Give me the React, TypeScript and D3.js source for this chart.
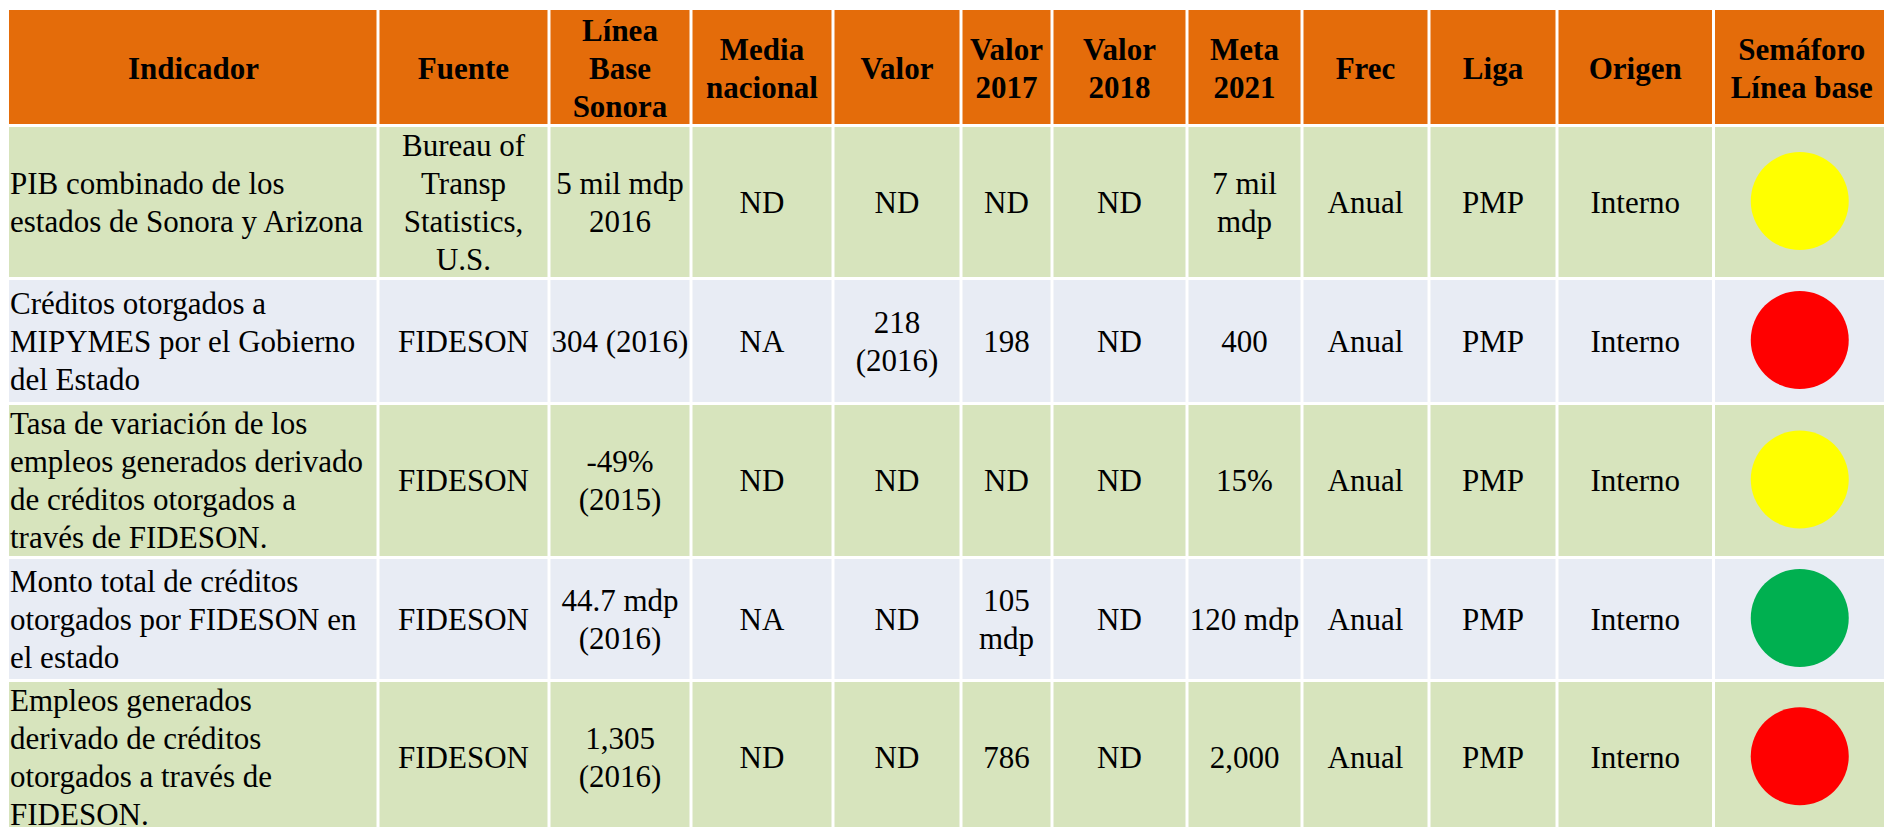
import React from "react";
import * as d3 from "d3";

// table content, lines split with "\n"
const headers = [
  "Indicador",
  "Fuente",
  "Línea\nBase\nSonora",
  "Media\nnacional",
  "Valor",
  "Valor\n2017",
  "Valor\n2018",
  "Meta\n2021",
  "Frec",
  "Liga",
  "Origen",
  "Semáforo\nLínea base",
];

const indicadores = [
  "PIB combinado de los\nestados de Sonora y Arizona",
  "Créditos otorgados a\nMIPYMES por el Gobierno\ndel Estado",
  "Tasa de variación de los\nempleos generados derivado\nde créditos otorgados a\ntravés de FIDESON.",
  "Monto total de créditos\notorgados por FIDESON en\nel estado",
  "Empleos generados\nderivado de créditos\notorgados a través de\nFIDESON.",
];
const fuentes = ["Bureau of\nTransp\nStatistics,\nU.S.", "FIDESON", "FIDESON", "FIDESON", "FIDESON"];
const lineaBase = ["5 mil mdp\n2016", "304 (2016)", "-49%\n(2015)", "44.7 mdp\n(2016)", "1,305\n(2016)"];
const mediaNacional = ["ND", "NA", "ND", "NA", "ND"];
const valor = ["ND", "218\n(2016)", "ND", "ND", "ND"];
const valor2017 = ["ND", "198", "ND", "105\nmdp", "786"];
const valor2018 = ["ND", "ND", "ND", "ND", "ND"];
const meta2021 = ["7 mil\nmdp", "400", "15%", "120 mdp", "2,000"];
const frec = ["Anual", "Anual", "Anual", "Anual", "Anual"];
const liga = ["PMP", "PMP", "PMP", "PMP", "PMP"];
const origen = ["Interno", "Interno", "Interno", "Interno", "Interno"];
const semaforo = ["amarillo", "rojo", "amarillo", "verde", "rojo"];

const columns = [indicadores, fuentes, lineaBase, mediaNacional, valor, valor2017, valor2018, meta2021, frec, liga, origen];

// layout
const W = 1884;
const H = 827;
const colWidths = [369, 171, 142, 142, 128, 91, 135, 115, 127, 128, 156.5, 176.5];
const rowHeights = [115.5, 153, 125, 154, 123, 153.5];
const x0 = 9;
const y0 = 10;
const gap = 3;
const fontSize = 31;
const lineH = 38;
const fontFamily =
  "'Liberation Serif', 'Times New Roman', Times, 'Nimbus Roman', 'Nimbus Roman No9 L', FreeSerif, 'Noto Serif', 'DejaVu Serif', Georgia, serif";

const headerFill = "#E46C0A";
const rowFills = ["#D7E4BD", "#E8ECF4"];
const lightColor = d3.scaleOrdinal<string, string>()
  .domain(["amarillo", "rojo", "verde"])
  .range(["#FFFF00", "#FF0000", "#00B050"]);

export default function App() {
  const xEdges = [x0, ...d3.cumsum(colWidths).map((d) => x0 + d)];
  const yEdges = [y0, ...d3.cumsum(rowHeights).map((d) => y0 + d)];

  const cellText = (txt: string, cx: number, cy: number, anchor: string, bold: boolean, key: string) => {
    const lines = txt.split("\n");
    return (
      <text
        key={key}
        x={cx}
        textAnchor={anchor}
        style={{ fontFamily, fontSize, fontWeight: bold ? "bold" : "normal" }}
        fill="#000"
      >
        {lines.map((l, i) => (
          <tspan key={i} x={cx} y={cy + (i - (lines.length - 1) / 2) * lineH} dy="0.35em">
            {l}
          </tspan>
        ))}
      </text>
    );
  };

  const cells: React.ReactNode[] = [];

  // header
  headers.forEach((h, c) => {
    const x1 = xEdges[c], x2 = xEdges[c + 1];
    const y1 = yEdges[0], y2 = yEdges[1];
    cells.push(
      <rect key={"hr" + c} x={x1 + (c ? gap / 2 : 0)} y={y1} width={x2 - x1 - (c ? gap : gap / 2)} height={y2 - y1 - gap / 2} fill={headerFill} />
    );
    cells.push(cellText(h, (x1 + x2) / 2, (y1 + y2) / 2, "middle", true, "ht" + c));
  });

  // body rows
  indicadores.forEach((_, r) => {
    const y1 = yEdges[r + 1], y2 = yEdges[r + 2];
    const cy = (y1 + y2) / 2;
    const fill = rowFills[r % 2];
    colWidths.forEach((_, c) => {
      const x1 = xEdges[c], x2 = xEdges[c + 1];
      cells.push(
        <rect key={`r${r}c${c}`} x={x1 + (c ? gap / 2 : 0)} y={y1 + gap / 2} width={x2 - x1 - (c ? gap : gap / 2)} height={y2 - y1 - gap} fill={fill} />
      );
      if (c < columns.length) {
        const left = c === 0;
        cells.push(cellText(columns[c][r], left ? x1 + 1 : (x1 + x2) / 2, cy, left ? "start" : "middle", false, `t${r}c${c}`));
      } else {
        cells.push(<ellipse key={`s${r}`} cx={(x1 + x2) / 2 - 2} cy={cy - 1} rx={49} ry={49} fill={lightColor(semaforo[r])} />);
      }
    });
  });

  return (
    <div style={{ position: "fixed", left: 0, top: 0, width: W, height: H, background: "#fff" }}>
      <svg width={W} height={H} style={{ display: "block" }}>
        {cells}
      </svg>
    </div>
  );
}
